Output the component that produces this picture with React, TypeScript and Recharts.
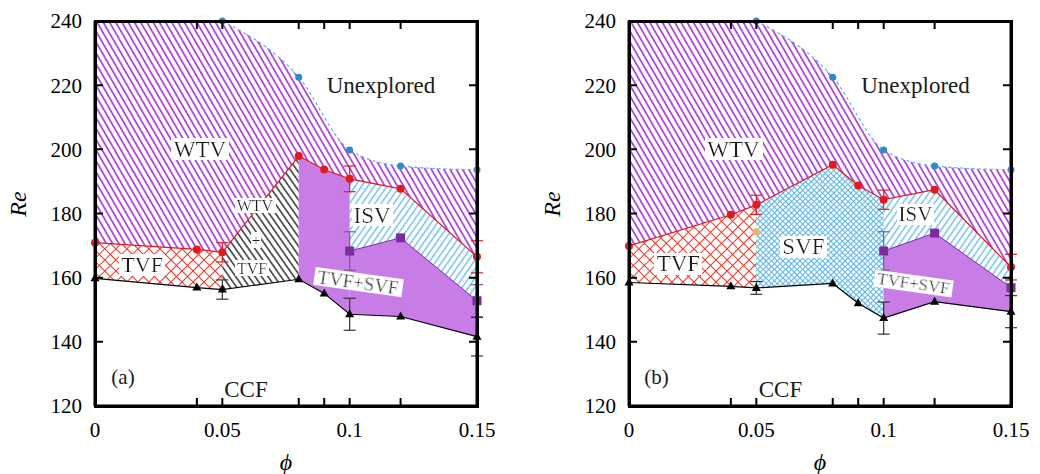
import React from 'react';
import { ComposedChart, Area, Line, Scatter, XAxis, YAxis, ErrorBar, Label } from 'recharts';

const FONT = '"Liberation Serif", "DejaVu Serif", serif';

const PHI = [0, 0.04, 0.05, 0.08, 0.09, 0.1, 0.12, 0.15];
const PHI_LABELS = [0, 0.05, 0.1, 0.15];
const RE_TICKS = [120, 140, 160, 180, 200, 220, 240];
const PHI_MIN = 0;
const PHI_MAX = 0.15;
const RE_MIN = 120;
const RE_TOP = 240;

const BLUE_PHI = [0.05, 0.08, 0.1, 0.12, 0.15];
const SQ_PHI = [0.1, 0.12, 0.15];

// panel (a)
const A_BLUE = [240, 222.5, 199.8, 194.8, 193.6];
const A_RED = [170.9, 168.8, 167.9, 197.9, 193.7, 190.8, 187.7, 166.5];
const A_RED_ERR = [0, 0, 3, 0, 0, 4, 0, 5];
const A_BLACK = [159.8, 156.9, 156.3, 159.5, 155.1, 148.6, 147.9, 141.6];
const A_BLACK_ERR = [0, 0, 3, 0, 0, 5, 0, 6];
const A_SQ = [168.3, 172.4, 152.8];
const A_SQ_ERR = [6, 0, 5];

// panel (b)
const B_BLUE = [240, 222.5, 199.8, 194.8, 193.6];
const B_RED = [169.9, 179.6, 182.7, 195.2, 188.7, 184.3, 187.4, 163.3];
const B_RED_ERR = [0, 0, 3, 0, 0, 3, 0, 4];
const B_BLACK = [158.5, 157.3, 156.8, 158.2, 152.0, 147.4, 152.5, 149.4];
const B_BLACK_ERR = [0, 0, 2, 0, 0, 5, 0, 5];
const B_SQ = [168.3, 173.9, 156.9];
const B_SQ_ERR = [6, 0, 0];
const B_ORANGE_PHI = [0.05];
const B_ORANGE = [174.3];

type Col = 'red' | 'black' | 'sq' | 'top';
type Region = { from: number; to: number; lo: Col; hi: Col; fill: string };
type Note = { phi: number; re: number; text: string; size: number; box?: boolean; rot?: number };

const A_REGIONS: Region[] = [
  { from: 0, to: 0.15, lo: 'red', hi: 'top', fill: 'wtv' },
  { from: 0, to: 0.05, lo: 'black', hi: 'red', fill: 'tvf' },
  { from: 0.05, to: 0.08, lo: 'black', hi: 'red', fill: 'mix' },
  { from: 0.08, to: 0.1, lo: 'black', hi: 'red', fill: 'solid' },
  { from: 0.1, to: 0.15, lo: 'black', hi: 'sq', fill: 'solid' },
  { from: 0.1, to: 0.15, lo: 'sq', hi: 'red', fill: 'isv' },
];
const B_REGIONS: Region[] = [
  { from: 0, to: 0.15, lo: 'red', hi: 'top', fill: 'wtv' },
  { from: 0, to: 0.05, lo: 'black', hi: 'red', fill: 'tvf' },
  { from: 0.05, to: 0.1, lo: 'black', hi: 'red', fill: 'svf' },
  { from: 0.1, to: 0.15, lo: 'black', hi: 'sq', fill: 'solid' },
  { from: 0.1, to: 0.15, lo: 'sq', hi: 'red', fill: 'isv' },
];

const A_NOTES: Note[] = [
  { phi: 0.0412, re: 200, text: 'WTV', size: 23, box: true },
  { phi: 0.1123, re: 220, text: 'Unexplored', size: 23 },
  { phi: 0.0185, re: 164, text: 'TVF', size: 22, box: true },
  { phi: 0.0628, re: 182.6, text: 'WTV', size: 16, box: true },
  { phi: 0.0632, re: 171.7, text: '+', size: 16, box: true },
  { phi: 0.0617, re: 163, text: 'TVF', size: 16, box: true },
  { phi: 0.1088, re: 179.5, text: 'ISV', size: 23, box: true },
  { phi: 0.1033, re: 158.6, text: 'TVF+SVF', size: 19, box: true, rot: 8 },
  { phi: 0.011, re: 129, text: '(a)', size: 21 },
  { phi: 0.0593, re: 125, text: 'CCF', size: 23 },
];
const B_NOTES: Note[] = [
  { phi: 0.041, re: 200, text: 'WTV', size: 23, box: true },
  { phi: 0.1125, re: 220, text: 'Unexplored', size: 23 },
  { phi: 0.0194, re: 164.3, text: 'TVF', size: 23, box: true },
  { phi: 0.0685, re: 169.6, text: 'SVF', size: 23, box: true },
  { phi: 0.1125, re: 179.8, text: 'ISV', size: 21, box: true },
  { phi: 0.1117, re: 158.3, text: 'TVF+SVF', size: 17, box: true, rot: 8 },
  { phi: 0.0108, re: 129, text: '(b)', size: 21 },
  { phi: 0.0595, re: 125, text: 'CCF', size: 23 },
];

const RED = '#e31a1c';
const PURPLE = '#9400d3';
const SKY = '#56b4e9';
const SOLID = '#c77de5';
const SQ_COL = '#7b2d9e';
const TICK_LEN = 8;

// plot box inside each chart (from the margins and axis sizes below)
const BOX = { left: 95, top: 21, width: 382, height: 385 };

function Patterns({ id }: { id: string }) {
  return (
    <defs>
      <pattern id={`${id}-wtv`} patternUnits="userSpaceOnUse" width={5.4} height={10} patternTransform="rotate(-30)">
        <line x1={2.7} y1={-1} x2={2.7} y2={11} stroke={PURPLE} strokeWidth={1.3} />
      </pattern>
      <pattern id={`${id}-mix`} patternUnits="userSpaceOnUse" width={5.3} height={10} patternTransform="rotate(-35)">
        <line x1={2.6} y1={-1} x2={2.6} y2={11} stroke="#000" strokeWidth={1.2} />
      </pattern>
      <pattern id={`${id}-isv`} patternUnits="userSpaceOnUse" width={5.2} height={10} patternTransform="rotate(35)">
        <line x1={2.6} y1={-1} x2={2.6} y2={11} stroke={SKY} strokeWidth={1.2} />
      </pattern>
      <pattern id={`${id}-tvf`} patternUnits="userSpaceOnUse" width={7.8} height={7.8} patternTransform="rotate(45)">
        <path d="M0 0.5H7.8M0.5 0V7.8" stroke="#ee3a2a" strokeWidth={1} fill="none" />
      </pattern>
      <pattern id={`${id}-svf`} patternUnits="userSpaceOnUse" width={4} height={4} patternTransform="rotate(45)">
        <path d="M0 0.5H4M0.5 0V4" stroke={SKY} strokeWidth={1} fill="none" />
      </pattern>
      <filter id={`${id}-bg`} x="-0.04" y="0.08" width="1.08" height="0.84">
        <feFlood floodColor="#ffffff" />
        <feComposite in="SourceGraphic" operator="over" />
      </filter>
    </defs>
  );
}

const circleDot = (color: string, r: number) => (p: any) => (
  <circle key={`c${p.index}`} cx={p.cx} cy={p.cy} r={r} fill={color} />
);
const triDot = (p: any) => (
  <polygon key={`t${p.index}`} points={`${p.cx},${p.cy - 5} ${p.cx - 4.5},${p.cy + 3} ${p.cx + 4.5},${p.cy + 3}`} fill="#000" />
);
const squareDot = (p: any) => (
  <rect key={`s${p.index}`} x={p.cx - 4.5} y={p.cy - 4.5} width={9} height={9} fill={SQ_COL} />
);

// axis tick renderers: label plus inward marks on both opposite sides at the tick's own coordinate
const bottomTick = (p: any) => {
  const v = p.payload.value;
  const yb = BOX.top + BOX.height;
  return (
    <g>
      <path d={`M${p.x},${yb}V${yb - TICK_LEN}M${p.x},${BOX.top}V${BOX.top + TICK_LEN}`} stroke="#000" strokeWidth={2} fill="none" />
      {PHI_LABELS.includes(v) && (
        <text x={p.x} y={p.y} dy="0.71em" textAnchor="middle" fontFamily={FONT} fontSize={21} fill="#000">
          {String(v)}
        </text>
      )}
    </g>
  );
};
const leftTick = (p: any) => {
  const xr = BOX.left + BOX.width;
  return (
    <g>
      <path d={`M${BOX.left},${p.y}H${BOX.left + TICK_LEN}M${xr},${p.y}H${xr - TICK_LEN}`} stroke="#000" strokeWidth={2} fill="none" />
      <text x={p.x} y={p.y} dy="0.355em" textAnchor="end" fontFamily={FONT} fontSize={21} fill="#000">
        {String(p.payload.value)}
      </text>
    </g>
  );
};

function Panel(props: {
  id: string; left: number; width: number; rightW: number;
  red: number[]; redErr: number[]; black: number[]; blackErr: number[];
  sq: number[]; sqErr: number[]; blue: number[]; regions: Region[]; notes: Note[];
  orange?: { phi: number; re: number }[];
}) {
  const { id, red, black, sq, blue } = props;
  const sqFull = PHI.map((p) => { const i = SQ_PHI.indexOf(p); return i < 0 ? null : sq[i]; });
  const cols: Record<Col, (number | null)[]> = { red, black, sq: sqFull, top: PHI.map(() => RE_TOP) };
  const band = (r: Region) =>
    PHI.map((p, i) => ({ phi: p, band: [cols[r.lo][i], cols[r.hi][i]] }))
      .filter((d) => d.phi >= r.from - 1e-9 && d.phi <= r.to + 1e-9);
  const redData = PHI.map((p, i) => ({ phi: p, re: red[i], err: props.redErr[i] }));
  const blackData = PHI.map((p, i) => ({ phi: p, re: black[i], err: props.blackErr[i] }));
  const sqData = SQ_PHI.map((p, i) => ({ phi: p, re: sq[i], err: props.sqErr[i] }));
  const blueData = BLUE_PHI.map((p, i) => ({ phi: p, re: blue[i] }));
  const coverData = BLUE_PHI.map((p, i) => ({ phi: p, band: [blue[i], RE_TOP] }));

  const noteShape = (p: any) => {
    const n: Note = p.payload;
    return (
      <text
        x={p.cx} y={p.cy} textAnchor="middle" dominantBaseline="central"
        fontFamily={FONT} fontSize={n.size} fill="#1a1a1a"
        filter={n.box ? `url(#${id}-bg)` : undefined}
        transform={n.rot ? `rotate(${n.rot} ${p.cx} ${p.cy})` : undefined}
      >
        {n.text}
      </text>
    );
  };

  const axisLine = { stroke: '#000', strokeWidth: 3 };

  return (
    <div style={{ position: 'absolute', left: props.left, top: 0, width: props.width, height: 474 }}>
      <ComposedChart width={props.width} height={474} margin={{ top: BOX.top, right: 0, bottom: 0, left: 0 }}>
        <Patterns id={id} />
        {props.regions.map((r, k) => (
          <Area
            key={`r${k}`} data={band(r)} dataKey="band" type="linear" stroke="none"
            fill={r.fill === 'solid' ? SOLID : `url(#${id}-${r.fill})`} fillOpacity={1}
            isAnimationActive={false} activeDot={false}
          />
        ))}
        <Area data={coverData} dataKey="band" type="monotone" stroke="none" fill="#fff" fillOpacity={1} isAnimationActive={false} activeDot={false} />
        <Line data={blueData} dataKey="re" type="monotone" stroke={SKY} strokeWidth={1.2} strokeDasharray="3 3"
          dot={circleDot('#2b8bcb', 3.5)} activeDot={false} isAnimationActive={false} />
        <Line data={sqData} dataKey="re" type="linear" stroke={SQ_COL} strokeWidth={1}
          dot={squareDot} activeDot={false} isAnimationActive={false}>
          <ErrorBar dataKey="err" width={6} stroke="#7a5a8a" strokeWidth={1.2} direction="y" />
        </Line>
        <Line data={blackData} dataKey="re" type="linear" stroke="#000" strokeWidth={1.2}
          dot={triDot} activeDot={false} isAnimationActive={false}>
          <ErrorBar dataKey="err" width={6} stroke="#333" strokeWidth={1.2} direction="y" />
        </Line>
        <Line data={redData} dataKey="re" type="linear" stroke={RED} strokeWidth={1.2}
          dot={circleDot(RED, 4)} activeDot={false} isAnimationActive={false}>
          <ErrorBar dataKey="err" width={6} stroke={RED} strokeWidth={1.2} direction="y" />
        </Line>
        {props.orange && (
          <Scatter data={props.orange} dataKey="re" fill="#f4b060"
            shape={(p: any) => <circle cx={p.cx} cy={p.cy} r={3.5} fill="#f4b060" />} isAnimationActive={false} />
        )}
        <Scatter data={props.notes} dataKey="re" shape={noteShape} isAnimationActive={false} />
        <XAxis
          type="number" dataKey="phi" domain={[PHI_MIN, PHI_MAX]} ticks={PHI} interval={0}
          tickSize={0} tickMargin={16} height={474 - BOX.top - BOX.height} tickLine={false}
          axisLine={axisLine} tick={bottomTick}
        >
          <Label
            content={(p: any) => (
              <text x={p.viewBox.x + p.viewBox.width / 2} y={p.viewBox.y + 56} textAnchor="middle"
                dominantBaseline="central" fontFamily={FONT} fontStyle="italic" fontSize={24} fill="#000">
                ϕ
              </text>
            )}
          />
        </XAxis>
        <YAxis
          type="number" domain={[RE_MIN, RE_TOP]} ticks={RE_TICKS} interval={0} width={BOX.left}
          tickSize={0} tickMargin={13} tickLine={false} axisLine={axisLine} tick={leftTick}
        >
          <Label
            content={(p: any) => {
              const x = p.viewBox.x + 18;
              const y = 204;
              return (
                <text x={x} y={y} textAnchor="middle" dominantBaseline="central" transform={`rotate(-90 ${x} ${y})`}
                  fontFamily={FONT} fontStyle="italic" fontSize={24} fill="#000">
                  Re
                </text>
              );
            }}
          />
        </YAxis>
        <YAxis
          yAxisId="right" orientation="right" type="number" domain={[RE_MIN, RE_TOP]} ticks={RE_TICKS} interval={0}
          width={props.rightW} tick={false} tickLine={false} axisLine={axisLine}
        />
      </ComposedChart>
      {/* plot frame laid over the chart */}
      <div
        style={{
          position: 'absolute', left: BOX.left - 1.5, top: BOX.top - 1.5,
          width: BOX.width + 3, height: BOX.height + 3,
          border: '3px solid #000', boxSizing: 'border-box', pointerEvents: 'none', zIndex: 5,
        }}
      />
    </div>
  );
}

export default function App() {
  return (
    <div style={{ position: 'absolute', left: 0, top: 0, width: 1040, height: 474, background: '#fff', overflow: 'hidden' }}>
      <Panel id="pa" left={0} width={520} rightW={43}
        red={A_RED} redErr={A_RED_ERR} black={A_BLACK} blackErr={A_BLACK_ERR}
        sq={A_SQ} sqErr={A_SQ_ERR} blue={A_BLUE} regions={A_REGIONS} notes={A_NOTES} />
      <Panel id="pb" left={534} width={506} rightW={29}
        red={B_RED} redErr={B_RED_ERR} black={B_BLACK} blackErr={B_BLACK_ERR}
        sq={B_SQ} sqErr={B_SQ_ERR} blue={B_BLUE} regions={B_REGIONS} notes={B_NOTES}
        orange={B_ORANGE_PHI.map((p, i) => ({ phi: p, re: B_ORANGE[i] }))} />
    </div>
  );
}
